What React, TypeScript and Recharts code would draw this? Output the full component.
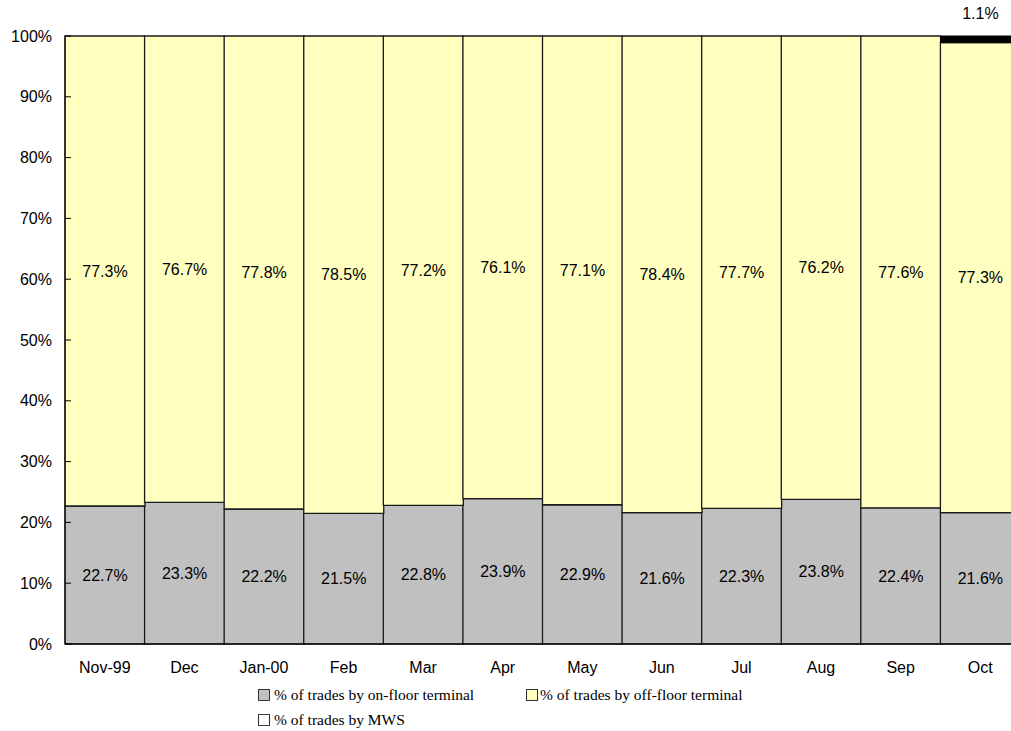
import React from 'react';
import { BarChart, Bar, XAxis, YAxis, LabelList } from 'recharts';

const months = ['Nov-99', 'Dec', 'Jan-00', 'Feb', 'Mar', 'Apr', 'May', 'Jun', 'Jul', 'Aug', 'Sep', 'Oct'];
const onFloor = [22.7, 23.3, 22.2, 21.5, 22.8, 23.9, 22.9, 21.6, 22.3, 23.8, 22.4, 21.6];
const offFloor = [77.3, 76.7, 77.8, 78.5, 77.2, 76.1, 77.1, 78.4, 77.7, 76.2, 77.6, 77.3];
const mws = [0, 0, 0, 0, 0, 0, 0, 0, 0, 0, 0, 1.1];
const yTicks = [0, 10, 20, 30, 40, 50, 60, 70, 80, 90, 100];

const seriesNames = {
  onFloor: '% of trades by on-floor terminal',
  offFloor: '% of trades by off-floor terminal',
  mws: '% of trades by MWS',
};

const data = months.map((m, i) => ({ month: m, onFloor: onFloor[i], offFloor: offFloor[i], mws: mws[i] }));

const SANS = '"Liberation Sans", Arial, sans-serif';
const SERIF = '"Liberation Serif", "Times New Roman", serif';
const GRAY = '#C0C0C0';
const YELLOW = '#FFFFC0';

const fmt = (v: any) => `${Number(v).toFixed(1)}%`;

const MwsLabel = (props: any) => {
  const { x, y, width, value } = props;
  if (!value) return null;
  return (
    <text x={x + width / 2} y={y - 17} textAnchor="middle" fontFamily={SANS} fontSize={16} fill="#000">
      {fmt(value)}
    </text>
  );
};

const Swatch = ({ color, left, top }: { color: string; left: number; top: number }) => (
  <div
    style={{
      position: 'absolute',
      left,
      top,
      width: 10,
      height: 10,
      background: color,
      border: '1px solid #333',
    }}
  />
);

const LegendText = ({ text, left, top }: { text: string; left: number; top: number }) => (
  <div
    style={{
      position: 'absolute',
      left,
      top,
      fontFamily: SERIF,
      fontSize: 15.5,
      lineHeight: '18px',
      color: '#000',
      whiteSpace: 'nowrap',
    }}
  >
    {text}
  </div>
);

export default function App() {
  return (
    <div style={{ position: 'fixed', left: 0, top: 0, width: 1011, height: 731, overflow: 'hidden', background: '#fff' }}>
      <BarChart
        width={1020}
        height={684}
        data={data}
        margin={{ top: 36, right: 0, bottom: 0, left: 0 }}
        barCategoryGap={0}
        barGap={0}
      >
        <YAxis
          width={65}
          domain={[0, 100]}
          ticks={yTicks}
          interval={0}
          tickFormatter={(v: number) => `${v}%`}
          tickSize={-6}
          tickMargin={19}
          axisLine={{ stroke: '#000' }}
          tickLine={{ stroke: '#000' }}
          tick={{ fontFamily: SANS, fontSize: 16, fill: '#000' }}
        />
        <XAxis
          dataKey="month"
          height={40}
          interval={0}
          tickLine={false}
          tickSize={0}
          tickMargin={18}
          axisLine={{ stroke: '#000' }}
          tick={{ fontFamily: SANS, fontSize: 16, fill: '#000' }}
        />
        <Bar dataKey="onFloor" name={seriesNames.onFloor} stackId="a" fill={GRAY} stroke="#1a1a1a" strokeWidth={1.3} isAnimationActive={false}>
          <LabelList dataKey="onFloor" position="center" formatter={fmt} style={{ fontFamily: SANS, fontSize: 16, fill: '#000' }} />
        </Bar>
        <Bar dataKey="offFloor" name={seriesNames.offFloor} stackId="a" fill={YELLOW} stroke="#1a1a1a" strokeWidth={1.3} isAnimationActive={false}>
          <LabelList dataKey="offFloor" position="center" formatter={fmt} style={{ fontFamily: SANS, fontSize: 16, fill: '#000' }} />
        </Bar>
        <Bar dataKey="mws" name={seriesNames.mws} stackId="a" fill="#000" stroke="#000" strokeWidth={1} isAnimationActive={false}>
          <LabelList dataKey="mws" content={<MwsLabel />} />
        </Bar>
      </BarChart>
      <Swatch color={GRAY} left={258} top={689} />
      <LegendText text={seriesNames.onFloor} left={274} top={686} />
      <Swatch color={YELLOW} left={526} top={689} />
      <LegendText text={seriesNames.offFloor} left={540} top={686} />
      <Swatch color="#fff" left={258} top={714} />
      <LegendText text={seriesNames.mws} left={274} top={711} />
    </div>
  );
}
